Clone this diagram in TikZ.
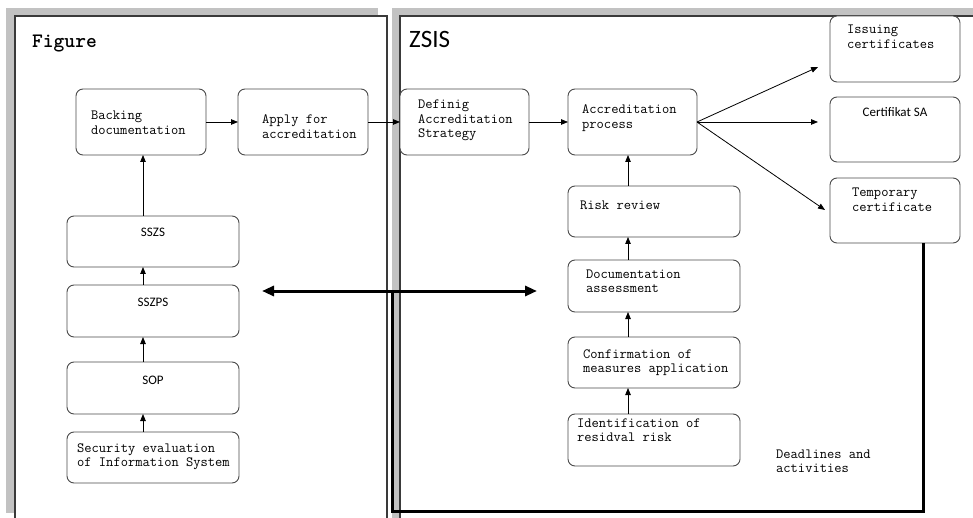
\documentclass[tikz,border=0pt]{standalone}
\usepackage{fontspec}
\newfontfamily\sansf{Carlito}
\usetikzlibrary{arrows.meta,fit}
\newcommand{\mlines}[1]{\begin{tabular}[t]{@{}l@{}}#1\end{tabular}}
\definecolor{boxc}{HTML}{4A4A4A}
\definecolor{panelc}{HTML}{3A3A3A}
\definecolor{shadowc}{HTML}{C2C2C2}
\tikzset{
  box/.style={draw=boxc, line width=0.9pt, rounded corners=7pt, fill=white, inner sep=0pt, outer sep=0pt},
  mono/.style={font=\ttfamily\fontsize{14.1}{14.5}\selectfont, inner sep=0pt, anchor=base west},
  sanslbl/.style={font=\sansf\fontsize{13}{15}\selectfont, inner sep=0pt, anchor=base},
  arr/.style={-{Triangle[length=7pt,width=5.5pt]}, line width=0.8pt},
  heavy/.style={line width=3pt, black},
  heavyhead/.style={{Triangle[length=12pt,width=10pt]}-{Triangle[length=12pt,width=10pt]}, line width=3pt},
}
\begin{document}
\begin{tikzpicture}[x=1pt,y=-1pt]
\useasboundingbox (0,0) rectangle (973,518);
\clip (0,0) rectangle (973,518);
\fill[white] (0,0) rectangle (973,518);
% panels
\fill[shadowc] (6,8) rectangle (378,513);
\filldraw[fill=white, draw=panelc, line width=1.2pt] (15,16) rectangle (387,540);
\fill[shadowc] (392,8) rectangle (990,540);
\filldraw[fill=white, draw=panelc, line width=1.2pt] (400,16) rectangle (1000,560);
\node[font=\ttfamily\bfseries\fontsize{20.5}{22}\selectfont, inner sep=0pt, anchor=base west] (fig) at (32,48) {Figure};
\node[font=\sansf\fontsize{25}{28}\selectfont, inner sep=0pt, anchor=base west] (zsis) at (409,48) {ZSIS};
% boxes
\node[box, fit={(76,89) (206,155)}] (bd) {};
\node[box, fit={(238,89) (368,155)}] (apply) {};
\node[box, fit={(400,89) (529,155)}] (def) {};
\node[box, fit={(568,89) (697,155)}] (ap) {};
\node[box, fit={(568,186) (740,237)}] (rr) {};
\node[box, fit={(568,260) (740,312)}] (da) {};
\node[box, fit={(568,337) (740,388)}] (cm) {};
\node[box, fit={(568,414) (740,466)}] (ir) {};
\node[box, fit={(830,16) (960,82)}] (ic) {};
\node[box, fit={(830,97) (960,162)}] (cs) {};
\node[box, fit={(830,178) (960,243)}] (tc) {};
\node[box, fit={(67,216) (239,267)}] (sszs) {};
\node[box, fit={(67,285) (239,337)}] (sszps) {};
\node[box, fit={(67,362) (239,414)}] (sop) {};
\node[box, fit={(67,432) (239,483)}] (sec) {};
% labels
\node[mono] (bd-t) at (91,120) {\mlines{Backing\\documentation}};
\node[mono] (apply-t) at (262,124) {\mlines{Apply for\\accreditation}};
\node[mono] (def-t) at (418,109) {\mlines{Definig\\Accreditation\\Strategy}};
\node[mono] (ap-t) at (582,114) {\mlines{Accreditation\\process}};
\node[mono] (rr-t) at (580,210) {Risk review};
\node[mono] (da-t) at (586,278) {\mlines{Documentation\\assessment}};
\node[mono] (cm-t) at (583,358) {\mlines{Confirmation of\\measures application}};
\node[mono] (ir-t) at (577,427) {\mlines{Identification of\\residval risk}};
\node[mono] (ic-t) at (847,34) {\mlines{Issuing\\certificates}};
\node[mono] (tc-t) at (852,197) {\mlines{Temporary\\certificate}};
\node[mono] (sec-t) at (77,452) {\mlines{Security evaluation\\of Information System}};
\node[mono] (dl-t) at (776,458) {\mlines{Deadlines and\\activities}};
\node[sanslbl] (cs-t) at (895,117) {Certifikat SA};
\node[sanslbl] (sszs-t) at (153,237) {SSZS};
\node[sanslbl] (sszps-t) at (153,306) {SSZPS};
\node[sanslbl] (sop-t) at (153,384) {SOP};
% free ends
\coordinate (icin) at (818,67);
\coordinate (csin) at (818,122);
\coordinate (tcin) at (825,210);
\coordinate (hl) at (262,291);
\coordinate (hr) at (537,291);
\coordinate (c1) at (923,511);
\coordinate (c2) at (392,511);
\coordinate (c3) at (392,291);
% horizontal flow
\draw[arr] (bd.east) -- (apply.west);
\draw[arr] (apply.east) -- (def.west);
\draw[arr] (def.east) -- (ap.west);
\draw[arr] (ap.east) -- (icin);
\draw[arr] (ap.east) -- (csin);
\draw[arr] (ap.east) -- (tcin);
% right column
\draw[arr] (rr.north -| 628,0) -- (ap.south -| 628,0);
\draw[arr] (da.north -| 628,0) -- (rr.south -| 628,0);
\draw[arr] (cm.north -| 628,0) -- (da.south -| 628,0);
\draw[arr] (ir.north -| 628,0) -- (cm.south -| 628,0);
% left column
\draw[arr] (sszs.north -| 143,0) -- (bd.south -| 143,0);
\draw[arr] (sszps.north -| 143,0) -- (sszs.south -| 143,0);
\draw[arr] (sop.north -| 143,0) -- (sszps.south -| 143,0);
\draw[arr] (sec.north -| 143,0) -- (sop.south -| 143,0);
% heavy line
\draw[heavy, line join=miter] (tc.south -| 923,0) -- (c1) -- (c2) -- (c3);
\draw[heavyhead] (hl) -- (hr);
\end{tikzpicture}
\end{document}
